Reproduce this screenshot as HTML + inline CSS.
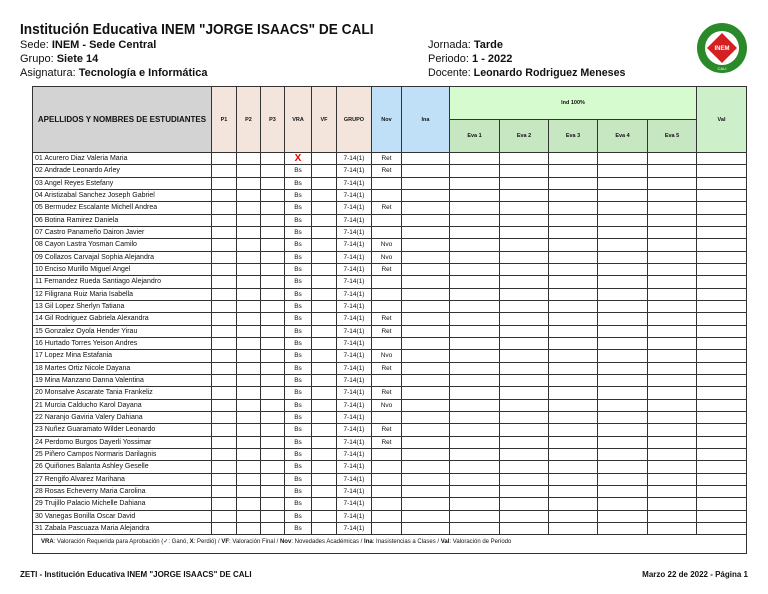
<!DOCTYPE html>
<html><head><meta charset="utf-8"><style>
body{margin:0;width:768px;height:594px;background:#fff;font-family:"Liberation Sans",sans-serif;position:relative;overflow:hidden;color:#111}
.a{position:absolute;white-space:nowrap}
table{position:absolute;left:32px;top:86px;border-collapse:collapse;table-layout:fixed;width:714px}
td{border:1px solid #333;padding:0;font-size:6.5px;text-align:center;overflow:hidden;white-space:nowrap}
tr.d td{height:11.33px;line-height:11px}
tr.d td.n{text-align:left;padding-left:2px;font-size:7px}
.h td{font-size:5.5px;font-weight:bold}
</style></head><body>
<div class="a" style="left:20px;top:21px;font-size:15px;font-weight:bold;transform:scaleX(0.91);transform-origin:0 0">Institución Educativa INEM "JORGE ISAACS" DE CALI</div>
<div class="a" style="left:20px;top:39px;font-size:11px">Sede: <b>INEM - Sede Central</b></div>
<div class="a" style="left:20px;top:53px;font-size:11px">Grupo: <b>Siete 14</b></div>
<div class="a" style="left:20px;top:67px;font-size:11px">Asignatura: <b>Tecnología e Informática</b></div>
<div class="a" style="left:428px;top:39px;font-size:11px">Jornada: <b>Tarde</b></div>
<div class="a" style="left:428px;top:53px;font-size:11px">Periodo: <b>1 - 2022</b></div>
<div class="a" style="left:428px;top:67px;font-size:11px;transform:scaleX(0.97);transform-origin:0 0">Docente: <b>Leonardo Rodriguez Meneses</b></div>
<svg class="a" style="left:696px;top:22px" width="52" height="52" viewBox="0 0 52 52">
<circle cx="26" cy="26" r="25" fill="#2a8a2a"/><circle cx="26" cy="26" r="17" fill="#fff"/>
<polygon points="26,11 41,26 26,41 11,26" fill="#d42020"/>
<text x="26" y="28" font-size="6" fill="#fff" text-anchor="middle" font-weight="bold" font-family="Liberation Sans">INEM</text>
<text x="26" y="48" font-size="4" fill="#fff" text-anchor="middle" font-family="Liberation Sans">CALI</text></svg>
<table>
<colgroup><col style="width:179px"><col style="width:25px"><col style="width:24px"><col style="width:24px"><col style="width:27px"><col style="width:25px"><col style="width:35px"><col style="width:30px"><col style="width:48px"><col style="width:50px"><col style="width:49px"><col style="width:49px"><col style="width:50px"><col style="width:49px"><col style="width:50px"></colgroup>
<tr class="h" style="height:33px"><td rowspan="2" style="background:#d3d3d3;font-size:8px">APELLIDOS Y NOMBRES DE ESTUDIANTES</td>
<td rowspan="2" style="background:#f3e5dc">P1</td><td rowspan="2" style="background:#f3e5dc">P2</td><td rowspan="2" style="background:#f3e5dc">P3</td><td rowspan="2" style="background:#f3e5dc">VRA</td><td rowspan="2" style="background:#f3e5dc">VF</td><td rowspan="2" style="background:#f3e5dc">GRUPO</td>
<td rowspan="2" style="background:#bfe0f7">Nov</td><td rowspan="2" style="background:#bfe0f7">Ina</td>
<td colspan="5" style="background:#d6fbce">Ind 100%</td><td rowspan="2" style="background:#cdefca">Val</td></tr>
<tr class="h" style="height:33px"><td style="background:#c7e7c2">Eva 1</td><td style="background:#c7e7c2">Eva 2</td><td style="background:#c7e7c2">Eva 3</td><td style="background:#c7e7c2">Eva 4</td><td style="background:#c7e7c2">Eva 5</td></tr>
<tr class="d"><td class="n">01 Acurero Diaz Valeria Maria</td><td></td><td></td><td></td><td style="color:#e00;font-size:10px;font-weight:bold">X</td><td></td><td>7-14(1)</td><td>Ret</td><td></td><td></td><td></td><td></td><td></td><td></td><td></td></tr>
<tr class="d"><td class="n">02 Andrade Leonardo Arley</td><td></td><td></td><td></td><td>Bs</td><td></td><td>7-14(1)</td><td>Ret</td><td></td><td></td><td></td><td></td><td></td><td></td><td></td></tr>
<tr class="d"><td class="n">03 Angel Reyes Estefany</td><td></td><td></td><td></td><td>Bs</td><td></td><td>7-14(1)</td><td></td><td></td><td></td><td></td><td></td><td></td><td></td><td></td></tr>
<tr class="d"><td class="n">04 Aristizabal Sanchez Joseph Gabriel</td><td></td><td></td><td></td><td>Bs</td><td></td><td>7-14(1)</td><td></td><td></td><td></td><td></td><td></td><td></td><td></td><td></td></tr>
<tr class="d"><td class="n">05 Bermudez Escalante Michell Andrea</td><td></td><td></td><td></td><td>Bs</td><td></td><td>7-14(1)</td><td>Ret</td><td></td><td></td><td></td><td></td><td></td><td></td><td></td></tr>
<tr class="d"><td class="n">06 Botina Ramirez Daniela</td><td></td><td></td><td></td><td>Bs</td><td></td><td>7-14(1)</td><td></td><td></td><td></td><td></td><td></td><td></td><td></td><td></td></tr>
<tr class="d"><td class="n">07 Castro Panameño Dairon Javier</td><td></td><td></td><td></td><td>Bs</td><td></td><td>7-14(1)</td><td></td><td></td><td></td><td></td><td></td><td></td><td></td><td></td></tr>
<tr class="d"><td class="n">08 Cayon Lastra Yosman Camilo</td><td></td><td></td><td></td><td>Bs</td><td></td><td>7-14(1)</td><td>Nvo</td><td></td><td></td><td></td><td></td><td></td><td></td><td></td></tr>
<tr class="d"><td class="n">09 Collazos Carvajal Sophia Alejandra</td><td></td><td></td><td></td><td>Bs</td><td></td><td>7-14(1)</td><td>Nvo</td><td></td><td></td><td></td><td></td><td></td><td></td><td></td></tr>
<tr class="d"><td class="n">10 Enciso Murillo Miguel Angel</td><td></td><td></td><td></td><td>Bs</td><td></td><td>7-14(1)</td><td>Ret</td><td></td><td></td><td></td><td></td><td></td><td></td><td></td></tr>
<tr class="d"><td class="n">11 Fernandez Rueda Santiago Alejandro</td><td></td><td></td><td></td><td>Bs</td><td></td><td>7-14(1)</td><td></td><td></td><td></td><td></td><td></td><td></td><td></td><td></td></tr>
<tr class="d"><td class="n">12 Filigrana Ruiz Maria Isabella</td><td></td><td></td><td></td><td>Bs</td><td></td><td>7-14(1)</td><td></td><td></td><td></td><td></td><td></td><td></td><td></td><td></td></tr>
<tr class="d"><td class="n">13 Gil Lopez Sherlyn Tatiana</td><td></td><td></td><td></td><td>Bs</td><td></td><td>7-14(1)</td><td></td><td></td><td></td><td></td><td></td><td></td><td></td><td></td></tr>
<tr class="d"><td class="n">14 Gil Rodriguez Gabriela Alexandra</td><td></td><td></td><td></td><td>Bs</td><td></td><td>7-14(1)</td><td>Ret</td><td></td><td></td><td></td><td></td><td></td><td></td><td></td></tr>
<tr class="d"><td class="n">15 Gonzalez Oyola Hender Yirau</td><td></td><td></td><td></td><td>Bs</td><td></td><td>7-14(1)</td><td>Ret</td><td></td><td></td><td></td><td></td><td></td><td></td><td></td></tr>
<tr class="d"><td class="n">16 Hurtado Torres Yeison Andres</td><td></td><td></td><td></td><td>Bs</td><td></td><td>7-14(1)</td><td></td><td></td><td></td><td></td><td></td><td></td><td></td><td></td></tr>
<tr class="d"><td class="n">17 Lopez Mina Estafania</td><td></td><td></td><td></td><td>Bs</td><td></td><td>7-14(1)</td><td>Nvo</td><td></td><td></td><td></td><td></td><td></td><td></td><td></td></tr>
<tr class="d"><td class="n">18 Martes Ortiz Nicole Dayana</td><td></td><td></td><td></td><td>Bs</td><td></td><td>7-14(1)</td><td>Ret</td><td></td><td></td><td></td><td></td><td></td><td></td><td></td></tr>
<tr class="d"><td class="n">19 Mina Manzano Danna Valentina</td><td></td><td></td><td></td><td>Bs</td><td></td><td>7-14(1)</td><td></td><td></td><td></td><td></td><td></td><td></td><td></td><td></td></tr>
<tr class="d"><td class="n">20 Monsalve Ascarate Tania Frankeliz</td><td></td><td></td><td></td><td>Bs</td><td></td><td>7-14(1)</td><td>Ret</td><td></td><td></td><td></td><td></td><td></td><td></td><td></td></tr>
<tr class="d"><td class="n">21 Murcia Calducho Karol Dayana</td><td></td><td></td><td></td><td>Bs</td><td></td><td>7-14(1)</td><td>Nvo</td><td></td><td></td><td></td><td></td><td></td><td></td><td></td></tr>
<tr class="d"><td class="n">22 Naranjo Gaviria Valery Dahiana</td><td></td><td></td><td></td><td>Bs</td><td></td><td>7-14(1)</td><td></td><td></td><td></td><td></td><td></td><td></td><td></td><td></td></tr>
<tr class="d"><td class="n">23 Nuñez Guaramato Wilder Leonardo</td><td></td><td></td><td></td><td>Bs</td><td></td><td>7-14(1)</td><td>Ret</td><td></td><td></td><td></td><td></td><td></td><td></td><td></td></tr>
<tr class="d"><td class="n">24 Perdomo Burgos Dayerli Yossimar</td><td></td><td></td><td></td><td>Bs</td><td></td><td>7-14(1)</td><td>Ret</td><td></td><td></td><td></td><td></td><td></td><td></td><td></td></tr>
<tr class="d"><td class="n">25 Piñero Campos Normaris Darilagnis</td><td></td><td></td><td></td><td>Bs</td><td></td><td>7-14(1)</td><td></td><td></td><td></td><td></td><td></td><td></td><td></td><td></td></tr>
<tr class="d"><td class="n">26 Quiñones Balanta Ashley Geselle</td><td></td><td></td><td></td><td>Bs</td><td></td><td>7-14(1)</td><td></td><td></td><td></td><td></td><td></td><td></td><td></td><td></td></tr>
<tr class="d"><td class="n">27 Rengifo Alvarez Marihana</td><td></td><td></td><td></td><td>Bs</td><td></td><td>7-14(1)</td><td></td><td></td><td></td><td></td><td></td><td></td><td></td><td></td></tr>
<tr class="d"><td class="n">28 Rosas Echeverry Maria Carolina</td><td></td><td></td><td></td><td>Bs</td><td></td><td>7-14(1)</td><td></td><td></td><td></td><td></td><td></td><td></td><td></td><td></td></tr>
<tr class="d"><td class="n">29 Trujillo Palacio Michelle Dahiana</td><td></td><td></td><td></td><td>Bs</td><td></td><td>7-14(1)</td><td></td><td></td><td></td><td></td><td></td><td></td><td></td><td></td></tr>
<tr class="d"><td class="n">30 Vanegas Bonilla Oscar David</td><td></td><td></td><td></td><td>Bs</td><td></td><td>7-14(1)</td><td></td><td></td><td></td><td></td><td></td><td></td><td></td><td></td></tr>
<tr class="d"><td class="n">31 Zabala Pascuaza Maria Alejandra</td><td></td><td></td><td></td><td>Bs</td><td></td><td>7-14(1)</td><td></td><td></td><td></td><td></td><td></td><td></td><td></td><td></td></tr>
<tr><td colspan="15" style="height:15px;text-align:left;padding-left:8px;font-size:6px;vertical-align:top;padding-top:3px;border-bottom:1.5px solid #333"><b>VRA</b>: Valoración Requerida para Aprobación (✓: Ganó, <b>X</b>: Perdió) / <b>VF</b>: Valoración Final / <b>Nov</b>: Novedades Académicas / <b>Ina</b>: Inasistencias a Clases / <b>Val</b>: Valoración de Periodo</td></tr>
</table>
<div class="a" style="left:20px;top:570px;font-size:8px;font-weight:bold">ZETI - Institución Educativa INEM "JORGE ISAACS" DE CALI</div>
<div class="a" style="right:20px;top:570px;font-size:8px;font-weight:bold">Marzo 22 de 2022 - Página 1</div>
</body></html>
